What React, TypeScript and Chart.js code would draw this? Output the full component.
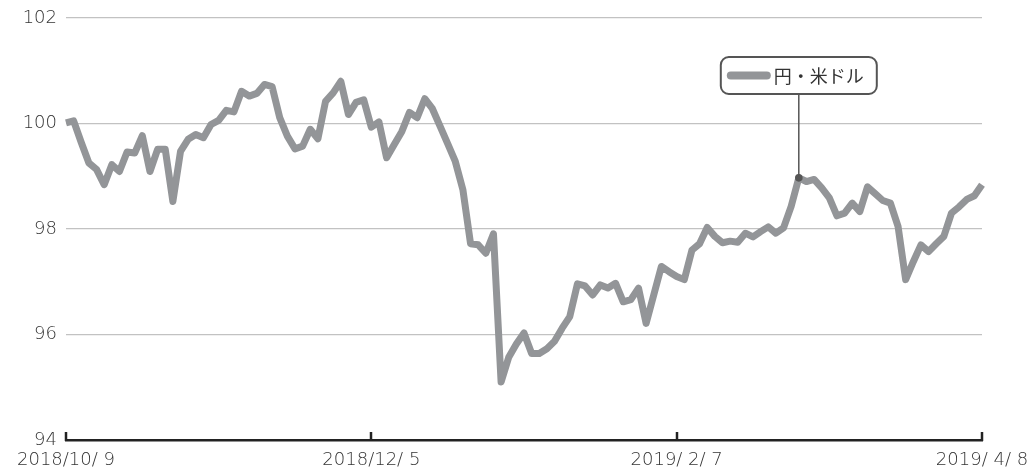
import React, { useEffect, useRef } from "react";
import { Chart, registerables } from "chart.js";

Chart.register(...registerables);

const seriesName = "円・米ドル";
const tickLabels = ["2018/10/ 9", "2018/12/ 5", "2019/ 2/ 7", "2019/ 4/ 8"];
const tickIndices = [0, 40, 80, 120];
const calloutIndex = 96;
const yTicks = [94, 96, 98, 100, 102];

const yenUsd = [
  100.01, 100.05, 99.64, 99.25, 99.13, 98.84, 99.22, 99.09, 99.46, 99.44,
  99.77, 99.09, 99.51, 99.51, 98.52, 99.47, 99.70, 99.79, 99.73, 99.98,
  100.06, 100.25, 100.22, 100.61, 100.52, 100.57, 100.74, 100.70, 100.11, 99.76,
  99.52, 99.57, 99.89, 99.71, 100.42, 100.58, 100.80, 100.17, 100.40, 100.45,
  99.93, 100.03, 99.35, 99.60, 99.85, 100.21, 100.11, 100.47, 100.28, 99.95,
  99.62, 99.28, 98.74, 97.72, 97.70, 97.54, 97.91, 95.10, 95.57, 95.82,
  96.03, 95.64, 95.64, 95.73, 95.87, 96.12, 96.34, 96.96, 96.92, 96.75,
  96.94, 96.88, 96.97, 96.62, 96.66, 96.88, 96.21, 96.75, 97.29, 97.19,
  97.10, 97.04, 97.60, 97.72, 98.03, 97.86, 97.74, 97.77, 97.75, 97.92,
  97.85, 97.95, 98.04, 97.92, 98.02, 98.43, 98.97, 98.90, 98.94, 98.78,
  98.59, 98.25, 98.30, 98.49, 98.33, 98.80, 98.67, 98.54, 98.49, 98.05,
  97.04, 97.38, 97.70, 97.57, 97.72, 97.86, 98.30, 98.42, 98.56, 98.63,
  98.84,
];

const categories = yenUsd.map((_, i) => i);

const FONT = "'Noto Sans CJK JP', 'Noto Sans', sans-serif";
const NUM_FONT = "'DejaVu Sans', 'Noto Sans CJK JP', sans-serif";
const LINE_COLOR = "#939598";
const DARK = "#555555";
const TEXT = "#333333";

const overlayPlugin = {
  id: "overlay",
  afterDraw(chart: any) {
    const ctx = chart.ctx;
    const xs = chart.scales.x;
    const ys = chart.scales.y;
    const bottom = chart.chartArea.bottom;
    ctx.save();
    // upward tick marks on the x axis
    ctx.strokeStyle = "#222222";
    ctx.lineWidth = 2.5;
    ctx.lineCap = "butt";
    tickIndices.forEach((idx) => {
      const px = Math.round(xs.getPixelForValue(idx));
      ctx.beginPath();
      ctx.moveTo(px, bottom + 1);
      ctx.lineTo(px, bottom - 8);
      ctx.stroke();
    });

    // callout legend
    const px = xs.getPixelForValue(calloutIndex);
    const py = ys.getPixelForValue(yenUsd[calloutIndex]);
    const boxW = 156;
    const boxH = 37;
    const boxL = px - boxW / 2;
    const boxT = chart.chartArea.top + 39;
    ctx.strokeStyle = DARK;
    ctx.lineWidth = 1.5;
    ctx.beginPath();
    ctx.moveTo(px, boxT + boxH);
    ctx.lineTo(px, py);
    ctx.stroke();
    ctx.fillStyle = DARK;
    ctx.beginPath();
    ctx.arc(px, py, 3.8, 0, Math.PI * 2);
    ctx.fill();

    ctx.fillStyle = "#ffffff";
    ctx.strokeStyle = DARK;
    ctx.lineWidth = 2;
    ctx.beginPath();
    (ctx as any).roundRect(boxL, boxT, boxW, boxH, 8);
    ctx.fill();
    ctx.stroke();

    const midY = boxT + boxH / 2;
    ctx.strokeStyle = LINE_COLOR;
    ctx.lineWidth = 8;
    ctx.lineCap = "round";
    ctx.beginPath();
    ctx.moveTo(boxL + 10, midY);
    ctx.lineTo(boxL + 46, midY);
    ctx.stroke();

    ctx.fillStyle = TEXT;
    ctx.font = `18px ${FONT}`;
    ctx.textBaseline = "middle";
    ctx.textAlign = "left";
    ctx.fillText(seriesName, boxL + 53, midY + 1);
    ctx.restore();
  },
};

export default function App() {
  const ref = useRef<HTMLCanvasElement | null>(null);

  useEffect(() => {
    if (!ref.current) return;
    const chart = new Chart(ref.current, {
      type: "line",
      data: {
        labels: categories,
        datasets: [
          {
            label: seriesName,
            data: yenUsd,
            borderColor: LINE_COLOR,
            borderWidth: 7,
            pointRadius: 0,
            tension: 0,
            borderJoinStyle: "round",
            borderCapStyle: "butt",
            fill: false,
          },
        ],
      },
      options: {
        animation: false,
        responsive: true,
        maintainAspectRatio: false,
        events: [],
        layout: { padding: { top: 18, right: 50, left: 0, bottom: 0 } },
        plugins: {
          legend: { display: false },
          tooltip: { enabled: false },
        },
        scales: {
          x: {
            type: "category",
            offset: false,
            grid: { display: false, drawTicks: false },
            border: { display: true, color: "#222222", width: 2.5 },
            afterBuildTicks: (scale: any) => {
              scale.ticks = scale.ticks.filter((t: any) => tickIndices.includes(t.value));
            },
            afterFit: (scale: any) => {
              scale.height = 32;
              scale.paddingLeft = 0;
              scale.paddingRight = 0;
            },
            ticks: {
              autoSkip: false,
              maxRotation: 0,
              minRotation: 0,
              padding: 10,
              color: TEXT,
              font: { family: NUM_FONT, size: 18, weight: "300" },
              callback: (v: any) => {
                const k = tickIndices.indexOf(Number(v));
                return k >= 0 ? tickLabels[k] : "";
              },
            },
          },
          y: {
            min: 94,
            max: 102,
            afterBuildTicks: (scale: any) => {
              scale.ticks = yTicks.map((v) => ({ value: v }));
            },
            afterFit: (scale: any) => {
              scale.width = 66;
              scale.paddingTop = 0;
              scale.paddingBottom = 0;
            },
            grid: { color: "#c2c2c2", lineWidth: 1.2, drawTicks: false },
            border: { display: false },
            ticks: {
              padding: 9,
              color: TEXT,
              font: { family: NUM_FONT, size: 18, weight: "300" },
            },
          },
        },
      },
      plugins: [overlayPlugin],
    });
    return () => chart.destroy();
  }, []);

  return (
    <div style={{ position: "absolute", left: 0, top: 0, width: 1032, height: 472 }}>
      <canvas ref={ref} />
    </div>
  );
}
